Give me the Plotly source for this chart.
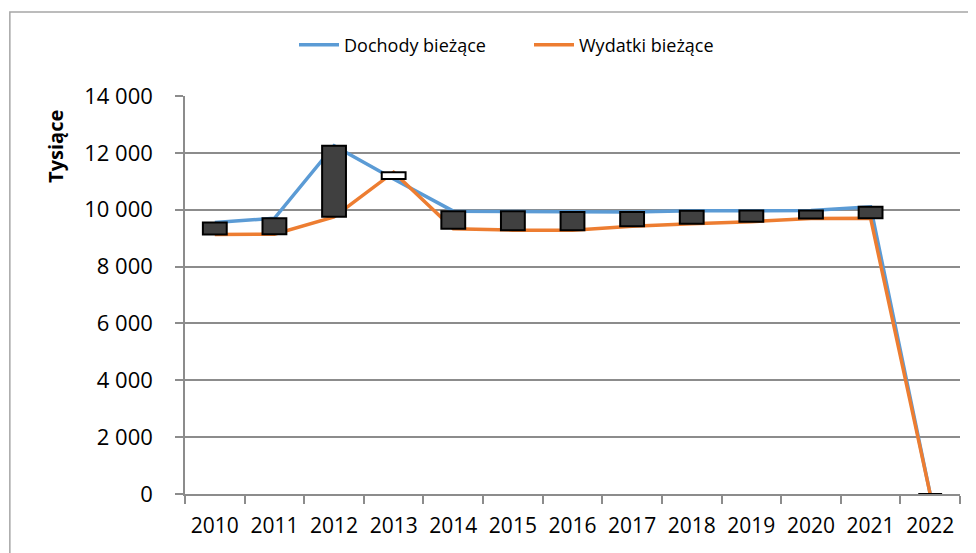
import plotly.graph_objects as go

years = ["2010", "2011", "2012", "2013", "2014", "2015", "2016", "2017",
         "2018", "2019", "2020", "2021", "2022"]
dochody = [9550, 9700, 12250, 11080, 9950, 9950, 9920, 9920, 9960, 9970, 9970, 10100, 0]
wydatki = [9130, 9140, 9750, 11320, 9330, 9280, 9280, 9420, 9510, 9580, 9690, 9700, 0]
series_names = ["Dochody bieżące", "Wydatki bieżące"]
y_tickvals = [0, 2000, 4000, 6000, 8000, 10000, 12000, 14000]
y_title = "Tysiące"

BLUE = "#5B9BD5"
ORANGE = "#ED7D31"
GRID = "#8C8C8C"
FONT = "Open Sans"

W, H = 968, 545  # page body has an 8px margin

bar_base = [min(a, b) for a, b in zip(dochody, wydatki)]
bar_len = [abs(a - b) for a, b in zip(dochody, wydatki)]
bar_col = ["#404040" if a >= b else "#FFFFFF" for a, b in zip(dochody, wydatki)]

fig = go.Figure()
fig.add_trace(go.Scatter(x=years, y=dochody, name=series_names[0], mode="lines",
                         line=dict(color=BLUE, width=3.5)))
fig.add_trace(go.Scatter(x=years, y=wydatki, name=series_names[1], mode="lines",
                         line=dict(color=ORANGE, width=3.5)))
fig.add_trace(go.Bar(x=years, y=bar_len, base=bar_base, width=0.4,
                     marker=dict(color=bar_col, line=dict(color="#000000", width=2)),
                     showlegend=False, xaxis="x2", yaxis="y2", hoverinfo="skip"))

fig.update_layout(
    width=W, height=H,
    margin=dict(l=177, r=16, t=88, b=59, autoexpand=False),
    paper_bgcolor="white", plot_bgcolor="white",
    font=dict(family=FONT, color="#000000"),
    separators=", ",
    showlegend=True,
    legend=dict(orientation="h", xref="container", yref="container",
                x=(294 - 8) / W, xanchor="left", y=1 - 37 / H, yanchor="middle",
                font=dict(size=18, family=FONT), itemwidth=40,
                entrywidth=180, entrywidthmode="pixels",
                bgcolor="rgba(0,0,0,0)"),
    xaxis=dict(type="category", categoryorder="array", categoryarray=years,
               range=[-0.5, 12.5], showgrid=False, showline=True,
               linecolor=GRID, linewidth=1.5, ticks="outside", tickson="boundaries",
               ticklen=8, tickcolor=GRID, tickwidth=1.5, ticklabelstandoff=12,
               tickangle=0, automargin=False,
               tickfont=dict(size=21, family=FONT), zeroline=False),
    yaxis=dict(range=[0, 14000], tickvals=y_tickvals, tickformat=",d",
               showgrid=True, gridcolor=GRID, gridwidth=1.5,
               showline=True, linecolor=GRID, linewidth=1.5,
               ticks="outside", ticklen=8, tickcolor=GRID, tickwidth=1.5,
               ticklabelstandoff=18, automargin=False,
               tickfont=dict(size=22, family=FONT), zeroline=False),
    xaxis2=dict(type="category", categoryorder="array", categoryarray=years,
                range=[-0.5, 12.5], overlaying="x", visible=False),
    yaxis2=dict(range=[0, 14000], overlaying="y", visible=False),
    shapes=[dict(type="rect", xref="paper", yref="paper",
                 x0=-0.226, x1=1.1, y0=-0.2, y1=1.211,
                 line=dict(color="#A6A6A6", width=1.5), fillcolor="rgba(0,0,0,0)",
                 layer="below")],
    annotations=[dict(text="<b>" + y_title + "</b>", textangle=-90,
                      xref="paper", yref="paper", x=-0.168, y=0.874,
                      xanchor="center", yanchor="middle", showarrow=False,
                      font=dict(size=20, family=FONT))],
)

fig.write_html("out.html")
